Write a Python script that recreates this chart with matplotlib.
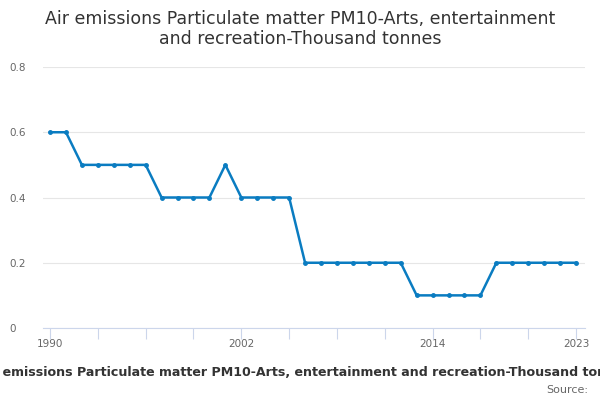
import numpy as np
import matplotlib.pyplot as plt

years = list(range(1990, 2024))
values = [0.6, 0.6, 0.5, 0.5, 0.5, 0.5, 0.5, 0.4, 0.4, 0.4, 0.4, 0.5,
          0.4, 0.4, 0.4, 0.4, 0.2, 0.2, 0.2, 0.2, 0.2, 0.2, 0.2, 0.1,
          0.1, 0.1, 0.1, 0.1, 0.2, 0.2, 0.2, 0.2, 0.2, 0.2]
y_ticks = [0, 0.2, 0.4, 0.6, 0.8]
y_tick_labels = ["0", "0.2", "0.4", "0.6", "0.8"]
x_label_years = [1990, 2002, 2014, 2023]
x_tick_years = list(range(1990, 2024, 3))

title = "Air emissions Particulate matter PM10-Arts, entertainment and recreation-Thousand tonnes"


def main():
    fig = plt.figure(figsize=(6, 4), dpi=100)
    ax = fig.add_axes([43 / 600, 72 / 400, 542 / 600, 261 / 400])

    ax.plot(years, values, color='#0a7cc1', lw=1.8, marker='o', markersize=2.5)

    ax.set_xlim(1989.56, 2023.56)
    ax.set_ylim(0, 0.8)

    ax.set_yticks(y_ticks)
    ax.set_yticklabels(y_tick_labels)
    ax.tick_params(axis='y', length=0, labelcolor='#666666', labelsize=7.5, pad=24)
    for lab in ax.get_yticklabels():
        lab.set_horizontalalignment('left')

    # labels only at a few years, tick marks every 3 years
    ax.xaxis.remove_overlapping_locs = False
    ax.set_xticks(x_label_years)
    ax.set_xticklabels([str(y) for y in x_label_years])
    ax.set_xticks(x_tick_years, minor=True)
    ax.tick_params(axis='x', which='major', length=0, labelcolor='#666666',
                   labelsize=7.5, pad=8)
    ax.tick_params(axis='x', which='minor', length=8, color='#ccd6eb', width=0.8)

    ax.grid(axis='y', color='#e6e6e6', lw=0.8)
    ax.set_axisbelow(True)
    for s in ['top', 'right', 'left']:
        ax.spines[s].set_visible(False)
    ax.spines['bottom'].set_color('#ccd6eb')

    fig.text(0.5, 0.975, "Air emissions Particulate matter PM10-Arts, entertainment\nand recreation-Thousand tonnes",
             ha='center', va='top', fontsize=12.5, color='#333333', linespacing=1.15)
    fig.text(305 / 600, 1 - 373 / 400, title, ha='center', va='center', fontsize=9.1,
             fontweight='bold', color='#333333')
    fig.text(588 / 600, 1 - 390 / 400, "Source:", ha='right', va='center', fontsize=8,
             color='#666666')

    plt.savefig("out.png", dpi=100)


if __name__ == "__main__":
    main()
